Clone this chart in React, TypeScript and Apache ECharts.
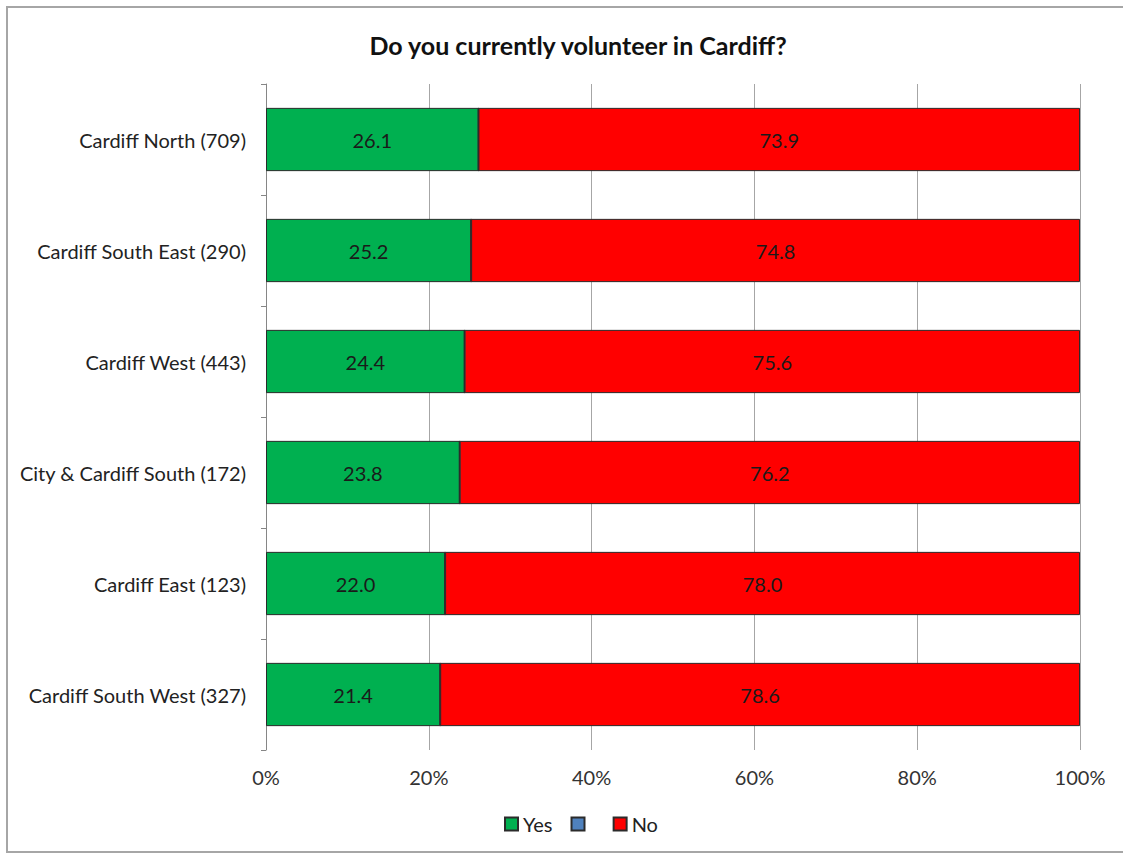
import React, { useEffect, useRef } from "react";
import * as echarts from "echarts";

const categories = [
  "Cardiff North (709)",
  "Cardiff South East (290)",
  "Cardiff West (443)",
  "City & Cardiff South (172)",
  "Cardiff East (123)",
  "Cardiff South West (327)",
];
const yesValues = [26.1, 25.2, 24.4, 23.8, 22.0, 21.4];
const noValues = [73.9, 74.8, 75.6, 76.2, 78.0, 78.6];
const blankValues = [0, 0, 0, 0, 0, 0];
const xTicks = [0, 20, 40, 60, 80, 100];

const FONT = "Lato, 'Open Sans', sans-serif";

export default function App() {
  const ref = useRef<HTMLDivElement>(null);
  useEffect(() => {
    if (!ref.current) return;
    const chart = echarts.init(ref.current, null, { renderer: "svg" });
    const labelOpt = {
      show: true,
      position: "inside",
      color: "#1a1a1a",
      fontSize: 20,
      fontFamily: FONT,
      formatter: (p: any) => Number(p.value).toFixed(1),
    };
    chart.setOption({
      animation: false,
      backgroundColor: "#fff",
      title: {
        text: "Do you currently volunteer in Cardiff?",
        left: 573,
        top: 27,
        textAlign: "center",
        textStyle: { fontFamily: FONT, fontSize: 25, fontWeight: "bold", color: "#111" },
      },
      graphic: [
        {
          type: "rect",
          shape: { x: 7, y: 7, width: 1130, height: 845 },
          style: { fill: "none", stroke: "#A6A6A6", lineWidth: 2 },
          silent: true,
        },
      ],
      legend: {
        bottom: 16,
        left: 499,
        itemWidth: 13,
        itemHeight: 13,
        itemGap: 18,
        icon: "rect",
        data: ["Yes", " ", "No"],
        textStyle: { fontFamily: FONT, fontSize: 20, color: "#222" },
      },
      grid: { left: 266, right: 43, top: 84, bottom: 105, containLabel: false },
      xAxis: {
        type: "value",
        min: xTicks[0],
        max: xTicks[xTicks.length - 1],
        interval: 20,
        axisLine: { show: false },
        axisTick: { show: false },
        splitLine: { show: true, lineStyle: { color: "#A6A6A6", width: 1 } },
        axisLabel: {
          formatter: "{value}%",
          fontFamily: FONT,
          fontSize: 20,
          color: "#333",
          margin: 17,
        },
      },
      yAxis: {
        type: "category",
        data: categories,
        inverse: true,
        axisLine: { show: true, lineStyle: { color: "#868686" } },
        axisTick: { show: true, length: 5, lineStyle: { color: "#868686" } },
        axisLabel: { fontFamily: FONT, fontSize: 20, color: "#222", margin: 20 },
      },
      series: [
        {
          name: "Yes",
          type: "bar",
          stack: "t",
          data: yesValues,
          barWidth: "57%",
          itemStyle: { color: "#00B050", borderColor: "#2b2b2b", borderWidth: 1 },
          label: labelOpt,
        },
        {
          name: " ",
          type: "bar",
          stack: "t",
          data: blankValues,
          itemStyle: { color: "#4F81BD", borderColor: "#2b2b2b", borderWidth: 1 },
          label: { show: false },
        },
        {
          name: "No",
          type: "bar",
          stack: "t",
          data: noValues,
          itemStyle: { color: "#FF0000", borderColor: "#2b2b2b", borderWidth: 1 },
          label: labelOpt,
        },
      ],
    });
    return () => chart.dispose();
  }, []);
  return (
    <div
      ref={ref}
      style={{ position: "absolute", left: 0, top: 0, width: 1123, height: 855 }}
    />
  );
}
